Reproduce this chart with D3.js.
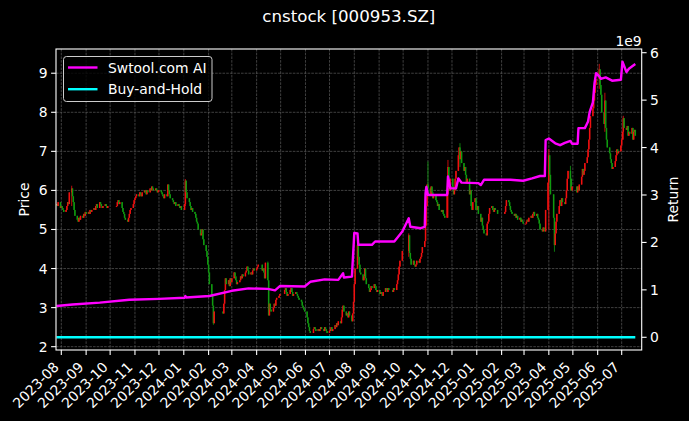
<!DOCTYPE html>
<html><head><meta charset="utf-8">
<script src="https://cdn.jsdelivr.net/npm/d3@7/dist/d3.min.js"></script>
<style>html,body{margin:0;padding:0;background:#000;}svg{display:block;font-family:"DejaVu Sans",sans-serif;}</style>
</head><body><svg id="chart" width="689" height="421"></svg>
<script>
// ---- data ----
const firstTradingDay = "2023-07-26";
const lastTradingDay = "2025-07-18";
const holidays = ["2023-09-29","2023-10-02","2023-10-03","2023-10-04","2023-10-05","2023-10-06",
  "2024-01-01","2024-02-09","2024-02-12","2024-02-13","2024-02-14","2024-02-15","2024-02-16",
  "2024-04-04","2024-04-05","2024-05-01","2024-05-02","2024-05-03","2024-06-10","2024-09-16","2024-09-17",
  "2024-10-01","2024-10-02","2024-10-03","2024-10-04","2024-10-07","2025-01-01","2025-01-28","2025-01-29",
  "2025-01-30","2025-01-31","2025-02-03","2025-02-04","2025-04-04","2025-05-01","2025-05-02","2025-05-05","2025-06-02"];
// daily closes, one per trading day (month by month)
const closePrices = [
  5.65,5.6,5.7,5.55,
  5.6,5.55,5.5,5.45,5.5,5.6,5.7,5.65,5.95,6.05,5.85,5.7,5.5,5.35,5.25,5.2,5.3,5.25,5.35,5.3,5.4,5.35,5.45,
  5.4,5.45,5.4,5.5,5.45,5.5,5.55,5.5,5.6,5.65,5.55,5.7,5.65,5.6,5.55,5.6,5.65,5.6,5.55,5.6,
  5.6,5.7,5.75,5.65,5.7,5.55,5.45,5.4,5.3,5.25,5.2,5.3,5.4,5.5,5.55,5.65,5.75,
  5.8,5.85,5.9,5.85,5.95,5.9,5.85,5.95,6.0,5.95,5.9,6.0,5.95,6.05,6.0,6.1,6.05,6.0,6.05,6.0,5.95,6.0,
  6.0,5.95,5.9,5.85,5.8,5.9,5.85,6.15,6.0,5.9,5.8,5.75,5.7,5.65,5.7,5.6,5.65,5.6,5.55,5.6,5.5,
  5.65,6.25,5.95,5.8,5.7,5.6,5.5,5.55,5.45,5.4,5.3,5.2,5.15,5.0,4.85,4.9,5.0,4.75,4.6,4.45,4.3,4.1,
  3.9,3.6,3.3,3.05,2.6,2.9,2.85,3.1,3.45,3.75,3.6,3.7,3.55,3.75,3.65,
  3.75,3.9,3.8,3.7,3.6,3.65,3.7,3.8,3.75,3.85,3.8,3.9,3.95,4.05,3.95,3.85,3.9,3.85,3.95,4.0,3.95,
  4.0,4.05,4.1,3.95,4.0,3.9,3.75,4.15,3.7,2.8,3.1,2.95,2.9,3.0,3.1,3.05,3.2,3.25,3.3,3.35,
  3.45,3.5,3.4,3.3,3.35,3.45,3.5,3.4,3.3,3.35,3.4,3.35,3.3,3.25,3.2,3.15,3.05,3.0,2.95,2.9,
  2.75,2.6,2.5,2.4,2.35,2.45,2.5,2.45,2.4,2.45,2.4,2.45,2.5,2.45,2.4,2.5,2.45,2.4,2.35,
  2.4,2.45,2.5,2.4,2.45,2.55,2.5,2.6,2.55,2.65,2.6,2.75,2.95,3.05,2.9,2.8,2.85,2.75,2.9,2.8,2.65,2.85,3.15,
  3.6,4.0,4.6,4.3,4.1,3.9,3.85,3.7,3.8,4.0,3.75,3.6,3.5,3.4,3.45,3.55,3.5,3.6,3.55,3.45,3.4,3.45,
  3.35,3.4,3.35,3.3,3.4,3.5,3.45,3.4,3.5,3.45,3.4,3.5,3.45,3.6,3.7,3.85,4.05,4.2,4.45,
  4.85,4.4,4.25,4.1,4.2,4.1,4.05,4.1,4.2,4.15,4.25,4.3,4.4,4.55,4.7,5.1,5.6,6.15,
  6.05,5.9,6.1,5.95,5.8,5.9,5.75,5.7,5.6,5.65,5.5,5.45,5.5,5.4,5.35,5.3,5.9,6.6,6.2,6.0,6.3,
  6.1,5.9,6.0,6.3,6.5,6.9,7.1,6.8,7.0,6.7,6.5,6.6,6.4,6.2,6.3,5.9,6.0,5.6,5.5,5.7,5.8,5.5,
  5.6,5.4,5.2,5.3,5.1,5.0,4.9,4.85,5.15,5.2,5.4,5.55,5.6,5.5,5.45,5.55,5.5,5.4,
  5.45,5.6,5.75,5.7,5.6,5.5,5.45,5.4,5.35,5.4,5.3,5.35,5.25,5.3,5.2,5.25,5.2,5.15,
  5.15,5.2,5.25,5.2,5.3,5.35,5.3,5.4,5.45,5.35,5.4,5.3,5.25,5.15,5.0,4.95,5.05,5.0,4.95,5.5,6.2,
  6.9,6.4,5.9,5.3,4.6,4.9,5.2,5.4,5.6,5.75,5.6,5.8,5.7,5.65,5.8,6.0,6.3,6.5,6.3,6.0,6.1,
  5.95,6.1,6.0,6.15,6.35,6.55,6.4,6.5,6.7,6.85,7.05,7.3,7.6,7.9,8.1,8.3,8.5,8.7,8.85,
  9.1,8.7,8.45,8.0,7.7,8.3,7.6,7.3,7.1,6.95,6.8,6.7,6.55,6.6,6.75,6.9,7.05,6.95,7.0,7.15,
  7.3,7.5,7.85,7.6,7.55,7.65,7.4,7.5,7.45,7.6,7.3,7.5,7.55,7.4
];
// notable intraday extremes (wicks)
const wickDates = ["2023-08-14","2024-01-03","2024-02-07","2024-04-15","2024-08-05","2024-10-08","2024-11-01",
  "2024-11-26","2024-12-11","2025-04-01","2025-04-08","2025-04-28","2025-06-03","2025-06-10","2025-07-03"];
const wickHighs = [6.12,6.29,2.95,4.18,4.73,4.9,6.74,6.78,7.21,7.06,5.2,6.63,9.24,8.5,7.91];
const wickLows  = [5.6,5.6,2.56,3.7,4.0,4.3,5.9,5.3,6.6,5.0,4.43,6.0,8.6,7.5,7.3];
// Swtool.com AI strategy return (units of 1e9)
const aiDates = ["2023-07-26","2023-08-15","2023-09-18","2023-10-25","2023-12-01","2024-01-02","2024-01-03","2024-01-04",
  "2024-02-02","2024-03-01","2024-03-22","2024-04-15","2024-04-24","2024-04-30","2024-05-31","2024-06-07","2024-06-25",
  "2024-07-12","2024-07-18","2024-07-19","2024-07-29","2024-08-01","2024-08-05","2024-08-06","2024-08-23","2024-08-27",
  "2024-09-20","2024-09-30","2024-10-08","2024-10-10","2024-10-23","2024-10-28","2024-10-29","2024-10-30","2024-11-01",
  "2024-11-25","2024-11-26","2024-11-29","2024-12-06","2024-12-09","2024-12-13","2025-01-03","2025-01-06","2025-01-10",
  "2025-02-12","2025-02-28","2025-03-11","2025-03-21","2025-03-27","2025-03-28","2025-04-01","2025-04-09","2025-04-15",
  "2025-04-21","2025-04-28","2025-04-30","2025-05-07","2025-05-08","2025-05-16","2025-05-20","2025-05-22","2025-05-26",
  "2025-05-28","2025-05-30","2025-06-03","2025-06-05","2025-06-11","2025-06-19","2025-06-30","2025-07-02","2025-07-07",
  "2025-07-10","2025-07-18"];
const aiValues = [0.66,0.69,0.73,0.79,0.81,0.835,0.87,0.84,
  0.87,0.98,1.03,1.02,0.99,1.08,1.07,1.17,1.22,
  1.21,1.35,1.26,1.28,2.2,2.19,1.95,1.95,2.02,
  2.02,2.23,2.51,2.33,2.30,2.33,3.04,3.17,3.0,
  3.0,3.39,3.14,3.14,3.35,3.26,3.25,3.21,3.32,
  3.32,3.30,3.35,3.40,3.40,4.16,4.19,4.09,4.05,
  4.10,4.14,4.08,4.08,4.41,4.41,4.55,4.75,4.95,
  5.35,5.57,5.50,5.45,5.48,5.41,5.43,5.81,5.59,
  5.66,5.76];
// Buy-and-Hold return (raw ratio, negligible on the 1e9 scale)
const bhDates = ["2023-07-26","2023-12-29","2024-06-28","2024-12-31","2025-07-18"];
const bhValues = [0.0, 0.0, -0.57, 0.0, 0.31];
const priceTicks = [2,3,4,5,6,7,8,9];
const returnTicks = [0,1,2,3,4,5,6];
const monthTicks = ["2023-08","2023-09","2023-10","2023-11","2023-12","2024-01","2024-02","2024-03","2024-04","2024-05",
  "2024-06","2024-07","2024-08","2024-09","2024-10","2024-11","2024-12","2025-01","2025-02","2025-03","2025-04",
  "2025-05","2025-06","2025-07"];

// ---- layout ----
const W = 689, H = 421;
const L = 56, R = 641.7, T = 49, B = 350;
const svg = d3.select("#chart");
svg.append("rect").attr("width", W).attr("height", H).attr("fill", "#000");

const fmt = d3.utcFormat("%Y-%m-%d");
const parse = d3.utcParse("%Y-%m-%d");
const parseM = d3.utcParse("%Y-%m");
const x = d3.scaleUtc().domain([new Date(Date.UTC(2023,6,25,9)), new Date(Date.UTC(2025,6,26,0))]).range([L, R]);
const yP = d3.scaleLinear().domain([1.915, 9.62]).range([B, T]);
const yR = d3.scaleLinear().domain([-0.268, 6.078]).range([B, T]);

// trading days
const hol = new Set(holidays);
const days = [];
for (let d = parse(firstTradingDay); d <= parse(lastTradingDay); d = d3.utcDay.offset(d, 1)) {
  const wd = d.getUTCDay();
  if (wd === 0 || wd === 6) continue;
  if (hol.has(fmt(d))) continue;
  days.push(d);
}
const wickMap = new Map(wickDates.map((d, i) => [d, {hi: wickHighs[i], lo: wickLows[i]}]));
const n = Math.min(days.length, closePrices.length);
const candles = [];
for (let i = 0; i < n; i++) {
  const c = closePrices[i], o = i > 0 ? closePrices[i-1] : c;
  const w = wickMap.get(fmt(days[i]));
  candles.push({date: days[i], open: o, close: c,
    high: w ? Math.max(w.hi, o, c) : Math.max(o, c), low: w ? Math.min(w.lo, o, c) : Math.min(o, c)});
}

const clipId = "plotclip";
svg.append("clipPath").attr("id", clipId).append("rect").attr("x", L).attr("y", T).attr("width", R-L).attr("height", B-T);

// grid
const grid = svg.append("g").attr("stroke", "#7a7a7a").attr("stroke-width", 0.7).attr("stroke-dasharray", "2.6,1.1").attr("opacity", 0.75);
grid.selectAll("line.v").data(monthTicks).join("line")
  .attr("x1", d => x(parseM(d))).attr("x2", d => x(parseM(d))).attr("y1", T).attr("y2", B);
grid.selectAll("line.h").data(priceTicks).join("line")
  .attr("x1", L).attr("x2", R).attr("y1", d => yP(d)).attr("y2", d => yP(d));

// candles
const up = "#f01010", down = "#109a10";
const cg = svg.append("g").attr("clip-path", `url(#${clipId})`);
cg.selectAll("line").data(candles).join("line")
  .attr("x1", d => x(d.date)).attr("x2", d => x(d.date))
  .attr("y1", d => yP(d.high)).attr("y2", d => yP(d.low))
  .attr("stroke", d => d.close >= d.open ? up : down).attr("stroke-width", 0.8);
cg.selectAll("rect").data(candles).join("rect")
  .attr("x", d => x(d.date) - 0.75)
  .attr("width", 1.5)
  .attr("y", d => yP(Math.max(d.open, d.close)))
  .attr("height", d => Math.max(1, Math.abs(yP(d.open) - yP(d.close))))
  .attr("fill", d => d.close >= d.open ? up : down);

// lines
const aiData = aiDates.map((d, i) => ({date: parse(d), v: aiValues[i]}));
const bhData = bhDates.map((d, i) => ({date: parse(d), v: bhValues[i] / 1e9}));
const line = d3.line().x(d => x(d.date)).y(d => yR(d.v));
svg.append("path").datum(aiData).attr("d", line).attr("fill", "none").attr("stroke", "#ff00ff").attr("stroke-width", 2.4).attr("stroke-linejoin", "round");
svg.append("path").datum(bhData).attr("d", line).attr("fill", "none").attr("stroke", "#00ffff").attr("stroke-width", 2.4);

// frame
svg.append("rect").attr("x", L).attr("y", T).attr("width", R-L).attr("height", B-T)
  .attr("fill", "none").attr("stroke", "#fff").attr("stroke-width", 1.1);

const fs = 13.9;
// left axis
const la = svg.append("g");
la.selectAll("line").data(priceTicks).join("line")
  .attr("x1", L - 4.9).attr("x2", L).attr("y1", d => yP(d)).attr("y2", d => yP(d)).attr("stroke", "#fff").attr("stroke-width", 1.1);
la.selectAll("text").data(priceTicks).join("text")
  .attr("x", L - 8.4).attr("y", d => yP(d)).attr("dy", "0.36em").attr("text-anchor", "end")
  .attr("fill", "#fff").attr("font-size", fs).text(d => d);
// right axis
const ra = svg.append("g");
ra.selectAll("line").data(returnTicks).join("line")
  .attr("x1", R).attr("x2", R + 4.9).attr("y1", d => yR(d)).attr("y2", d => yR(d)).attr("stroke", "#fff").attr("stroke-width", 1.1);
ra.selectAll("text").data(returnTicks).join("text")
  .attr("x", R + 8.4).attr("y", d => yR(d)).attr("dy", "0.36em").attr("text-anchor", "start")
  .attr("fill", "#fff").attr("font-size", fs).text(d => d);
svg.append("text").attr("x", R).attr("y", 45.5).attr("text-anchor", "end").attr("fill", "#fff").attr("font-size", fs).text("1e9");
// bottom axis
const ba = svg.append("g");
ba.selectAll("line").data(monthTicks).join("line")
  .attr("x1", d => x(parseM(d))).attr("x2", d => x(parseM(d))).attr("y1", B).attr("y2", B + 4.9).attr("stroke", "#fff").attr("stroke-width", 1.1);
ba.selectAll("text").data(monthTicks).join("text")
  .attr("transform", d => `translate(${x(parseM(d)) - 1.5},${B + 18}) rotate(-45)`)
  .attr("text-anchor", "end").attr("fill", "#fff").attr("font-size", fs).text(d => d);

// axis labels
svg.append("text").attr("transform", `translate(29,${(T+B)/2}) rotate(-90)`).attr("text-anchor", "middle")
  .attr("fill", "#fff").attr("font-size", fs).text("Price");
svg.append("text").attr("transform", `translate(678,${(T+B)/2}) rotate(-90)`).attr("text-anchor", "middle")
  .attr("fill", "#fff").attr("font-size", fs).text("Return");
// title
svg.append("text").attr("x", (L+R)/2).attr("y", 21.5).attr("text-anchor", "middle")
  .attr("fill", "#fff").attr("font-size", 16.67).text("cnstock [000953.SZ]");

// legend
const lg = svg.append("g");
lg.append("rect").attr("x", 63.5).attr("y", 56.5).attr("width", 148.5).attr("height", 45).attr("rx", 3)
  .attr("fill", "#000").attr("fill-opacity", 0.8).attr("stroke", "#cccccc").attr("stroke-width", 1);
const items = [{label: "Swtool.com AI", color: "#ff00ff"}, {label: "Buy-and-Hold", color: "#00ffff"}];
items.forEach((it, i) => {
  const yy = 67.5 + i * 21.7;
  lg.append("line").attr("x1", 68).attr("x2", 97.5).attr("y1", yy).attr("y2", yy).attr("stroke", it.color).attr("stroke-width", 2.4);
  lg.append("text").attr("x", 108).attr("y", yy).attr("dy", "0.36em").attr("fill", "#fff").attr("font-size", fs).text(it.label);
});
</script></body></html>
